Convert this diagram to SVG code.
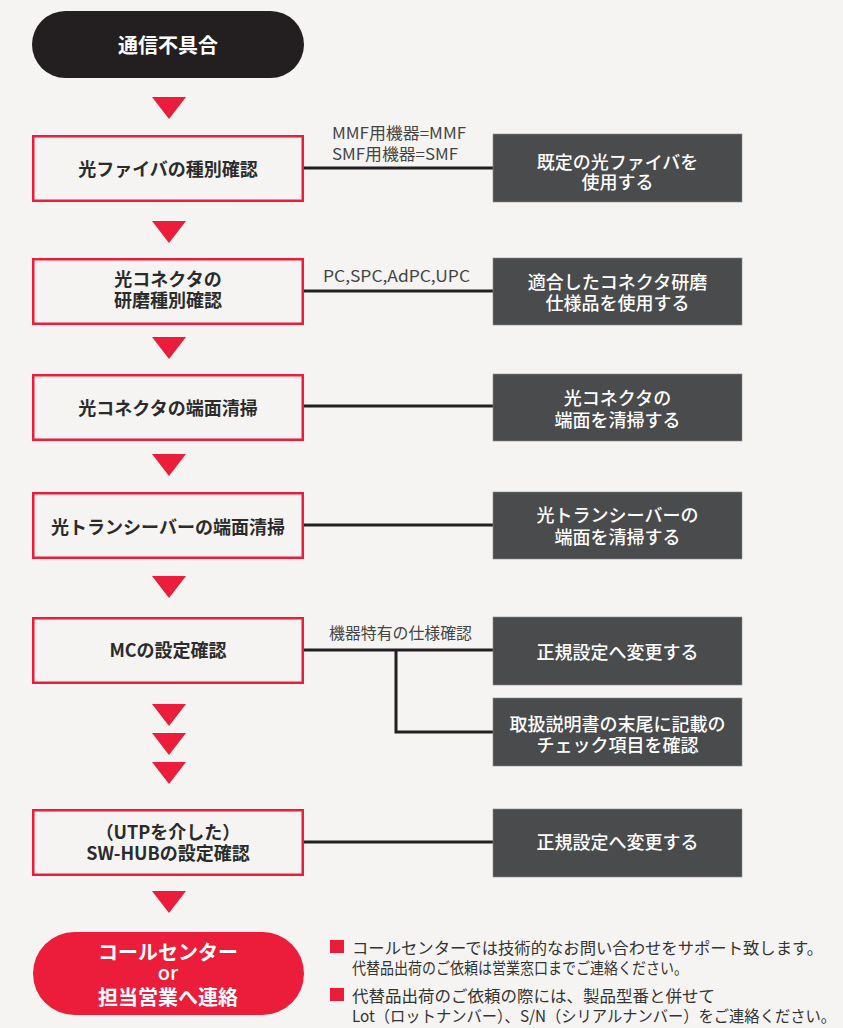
<svg xmlns="http://www.w3.org/2000/svg" width="843" height="1028" viewBox="0 0 843 1028">
<defs>
<style>
.bg{fill:#f5f4f2}
.step{fill:#f5f4f2;stroke:#ec1c3b;stroke-width:2.5}
.act{fill:#4a4b4d;stroke:#8a8b8d;stroke-width:0.6}
.tri{fill:#ec1c3b}
.conn{stroke:#231f20;stroke-width:3;fill:none}
.t{font-family:"Noto Sans CJK JP","Noto Sans",sans-serif;text-anchor:middle}
.st{font-size:18px;font-weight:700;fill:#2b2b2b}
.at{font-size:18px;font-weight:500;fill:#ffffff}
.lb{font-family:"Noto Sans CJK JP","Noto Sans",sans-serif;font-size:16px;fill:#444}
.nt{font-family:"Noto Sans CJK JP","Noto Sans",sans-serif;font-size:16px;fill:#333}
</style>
</defs>
<rect class="bg" x="0" y="0" width="843" height="1028"/>

<g id="connectors">
<line class="conn" x1="304" y1="168" x2="493" y2="168"/>
<line class="conn" x1="304" y1="291" x2="493" y2="291"/>
<line class="conn" x1="304" y1="406" x2="493" y2="406"/>
<line class="conn" x1="304" y1="525" x2="493" y2="525"/>
<line class="conn" x1="304" y1="650" x2="493" y2="650"/>
<polyline class="conn" points="396,650 396,732 493,732"/>
<line class="conn" x1="304" y1="842" x2="493" y2="842"/>
<polygon class="tri" points="152,97 186,97 169,119"/>
<polygon class="tri" points="152,221 186,221 169,243"/>
<polygon class="tri" points="152,337 186,337 169,359"/>
<polygon class="tri" points="152,454 186,454 169,476"/>
<polygon class="tri" points="152,576 186,576 169,598"/>
<polygon class="tri" points="152,704 186,704 169,726"/>
<polygon class="tri" points="152,733 186,733 169,755"/>
<polygon class="tri" points="152,762 186,762 169,784"/>
<polygon class="tri" points="152,891 186,891 169,913"/>
<text class="lb" x="332" y="138.5" textLength="134" lengthAdjust="spacingAndGlyphs">MMF用機器=MMF</text>
<text class="lb" x="332" y="159.5" textLength="126" lengthAdjust="spacingAndGlyphs">SMF用機器=SMF</text>
<text class="lb" x="323" y="282" textLength="147" lengthAdjust="spacingAndGlyphs">PC,SPC,AdPC,UPC</text>
<text class="lb" x="329" y="639" textLength="143" lengthAdjust="spacingAndGlyphs">機器特有の仕様確認</text>
</g>

<g id="start">
<rect x="32" y="11" width="272" height="67" rx="33.5" fill="#231f20"/>
<text class="t" x="168" y="52.5" font-size="20" font-weight="700" fill="#ffffff">通信不具合</text>
</g>

<g id="step1">
<rect class="step" x="33.25" y="136.25" width="269.5" height="64.5"/>
<text class="t st" x="168" y="175.5">光ファイバの種別確認</text>
</g>
<g id="step2">
<rect class="step" x="33.25" y="259.25" width="269.5" height="64.5"/>
<text class="t st" x="168" y="285.5">光コネクタの</text>
<text class="t st" x="168" y="306.5">研磨種別確認</text>
</g>
<g id="step3">
<rect class="step" x="33.25" y="375.25" width="269.5" height="64.5"/>
<text class="t st" x="168" y="414.5">光コネクタの端面清掃</text>
</g>
<g id="step4">
<rect class="step" x="33.25" y="493.25" width="269.5" height="64.5"/>
<text class="t st" x="168" y="533.5">光トランシーバーの端面清掃</text>
</g>
<g id="step5">
<rect class="step" x="33.25" y="618.25" width="269.5" height="64.5"/>
<text class="t st" x="168" y="656.5">MCの設定確認</text>
</g>
<g id="step6">
<rect class="step" x="33.25" y="810.25" width="269.5" height="64.5"/>
<text class="t st" x="168" y="838.5">（UTPを介した）</text>
<text class="t st" x="168" y="859.5">SW-HUBの設定確認</text>
</g>

<g id="act1">
<rect class="act" x="493" y="134" width="249" height="68"/>
<text class="t at" x="617.5" y="168.5">既定の光ファイバを</text>
<text class="t at" x="617.5" y="188.5">使用する</text>
</g>
<g id="act2">
<rect class="act" x="493" y="258" width="249" height="67"/>
<text class="t at" x="617.5" y="288.5">適合したコネクタ研磨</text>
<text class="t at" x="617.5" y="309.5">仕様品を使用する</text>
</g>
<g id="act3">
<rect class="act" x="493" y="374" width="249" height="67"/>
<text class="t at" x="617.5" y="404.5">光コネクタの</text>
<text class="t at" x="617.5" y="426.5">端面を清掃する</text>
</g>
<g id="act4">
<rect class="act" x="493" y="492" width="249" height="67"/>
<text class="t at" x="617.5" y="521.5">光トランシーバーの</text>
<text class="t at" x="617.5" y="543.5">端面を清掃する</text>
</g>
<g id="act5">
<rect class="act" x="493" y="617" width="249" height="68"/>
<text class="t at" x="617.5" y="658.5">正規設定へ変更する</text>
</g>
<g id="act6">
<rect class="act" x="493" y="698" width="249" height="68"/>
<text class="t at" x="617.5" y="730.5">取扱説明書の末尾に記載の</text>
<text class="t at" x="617.5" y="751.5">チェック項目を確認</text>
</g>
<g id="act7">
<rect class="act" x="493" y="809" width="249" height="68"/>
<text class="t at" x="617.5" y="848.5">正規設定へ変更する</text>
</g>

<g id="end">
<rect x="33" y="932" width="271" height="83" rx="41.5" fill="#ec1c3b"/>
<text class="t" x="168" y="960" font-size="20" font-weight="700" fill="#ffffff">コールセンター</text>
<text class="t" x="168" y="980" font-size="20" font-weight="500" fill="#ffffff">or</text>
<text class="t" x="168" y="1004.5" font-size="20" font-weight="700" fill="#ffffff">担当営業へ連絡</text>
</g>

<g id="notes">
<rect x="330" y="940" width="14" height="13" fill="#ec1c3b"/>
<rect x="330" y="988" width="14" height="13" fill="#ec1c3b"/>
<text class="nt" x="352" y="954" textLength="471" lengthAdjust="spacingAndGlyphs">コールセンターでは技術的なお問い合わせをサポート致します。</text>
<text class="nt" x="352" y="974" textLength="336" lengthAdjust="spacingAndGlyphs">代替品出荷のご依頼は営業窓口までご連絡ください。</text>
<text class="nt" x="352" y="1002" textLength="363" lengthAdjust="spacingAndGlyphs">代替品出荷のご依頼の際には、製品型番と併せて</text>
<text class="nt" x="352" y="1022" textLength="484" lengthAdjust="spacingAndGlyphs">Lot（ロットナンバー）、S/N（シリアルナンバー）をご連絡ください。</text>
</g>
</svg>
